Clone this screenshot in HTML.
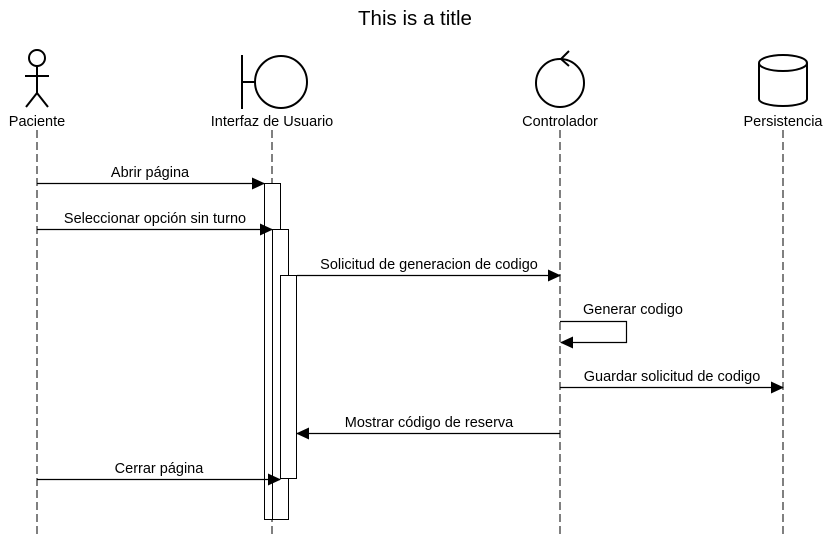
<!DOCTYPE html>
<html><head><meta charset="utf-8"><style>body{margin:0;background:#fff}svg{display:block;font-family:"Liberation Sans",sans-serif}</style></head><body>
<svg width="830" height="536" viewBox="0 0 830 536">
<defs><marker id="ah" markerWidth="13" markerHeight="12" refX="12" refY="6" orient="auto" markerUnits="userSpaceOnUse"><path d="M0,0 L13,6 L0,12 z" fill="#000"/></marker></defs>
<text x="415" y="25" font-size="20.5" text-anchor="middle">This is a title</text>
<g stroke="#000" stroke-width="1" stroke-dasharray="8,4" fill="none">
<line x1="37" y1="130" x2="37" y2="536"/><line x1="272" y1="130" x2="272" y2="536"/><line x1="560" y1="130" x2="560" y2="536"/><line x1="783" y1="130" x2="783" y2="536"/></g>
<g stroke="#000" stroke-width="2" fill="none">
<circle cx="37" cy="58" r="8"/><line x1="37" y1="66" x2="37" y2="93"/><line x1="25" y1="76" x2="49" y2="76"/><line x1="37" y1="93" x2="26" y2="107"/><line x1="37" y1="93" x2="48" y2="107"/></g>
<g stroke="#000" stroke-width="2" fill="none">
<line x1="242" y1="55" x2="242" y2="109"/><line x1="242" y1="82" x2="255" y2="82"/><circle cx="281" cy="82" r="26"/></g>
<g stroke="#000" stroke-width="2" fill="none">
<circle cx="560" cy="83" r="24"/><path d="M569,51 L561,59 L569,66"/></g>
<g stroke="#000" stroke-width="2" fill="none">
<path d="M759,63 L759,99 A24,7 0 0 0 807,99 L807,63"/><ellipse cx="783" cy="63" rx="24" ry="8"/></g>
<g font-size="14.5" text-anchor="middle" fill="#000">
<text x="37" y="126">Paciente</text>
<text x="272" y="126">Interfaz de Usuario</text>
<text x="560" y="126">Controlador</text>
<text x="783" y="126">Persistencia</text></g>
<g stroke="#000" fill="#fff">
<rect x="264.5" y="183.5" width="16" height="336"/><rect x="272.5" y="229.5" width="16" height="290"/><rect x="280.5" y="275.5" width="16" height="203"/></g>
<g stroke="#000" stroke-width="1.2" fill="none" marker-end="url(#ah)">
<line x1="37" y1="183.5" x2="264" y2="183.5"/>
<line x1="37" y1="229.5" x2="272" y2="229.5"/>
<line x1="297" y1="275.5" x2="560" y2="275.5"/>
<path d="M560,321.5 L626.5,321.5 L626.5,342.5 L561,342.5"/>
<line x1="560" y1="387.5" x2="783" y2="387.5"/>
<line x1="560" y1="433.5" x2="297" y2="433.5"/>
<line x1="37" y1="479.5" x2="280" y2="479.5"/></g>
<g font-size="14.5" fill="#000">
<text x="150" y="177" text-anchor="middle">Abrir página</text>
<text x="155" y="223" text-anchor="middle">Seleccionar opción sin turno</text>
<text x="429" y="269" text-anchor="middle">Solicitud de generacion de codigo</text>
<text x="583" y="314">Generar codigo</text>
<text x="672" y="381" text-anchor="middle">Guardar solicitud de codigo</text>
<text x="429" y="427" text-anchor="middle">Mostrar código de reserva</text>
<text x="159" y="473" text-anchor="middle">Cerrar página</text></g>
</svg></body></html>
